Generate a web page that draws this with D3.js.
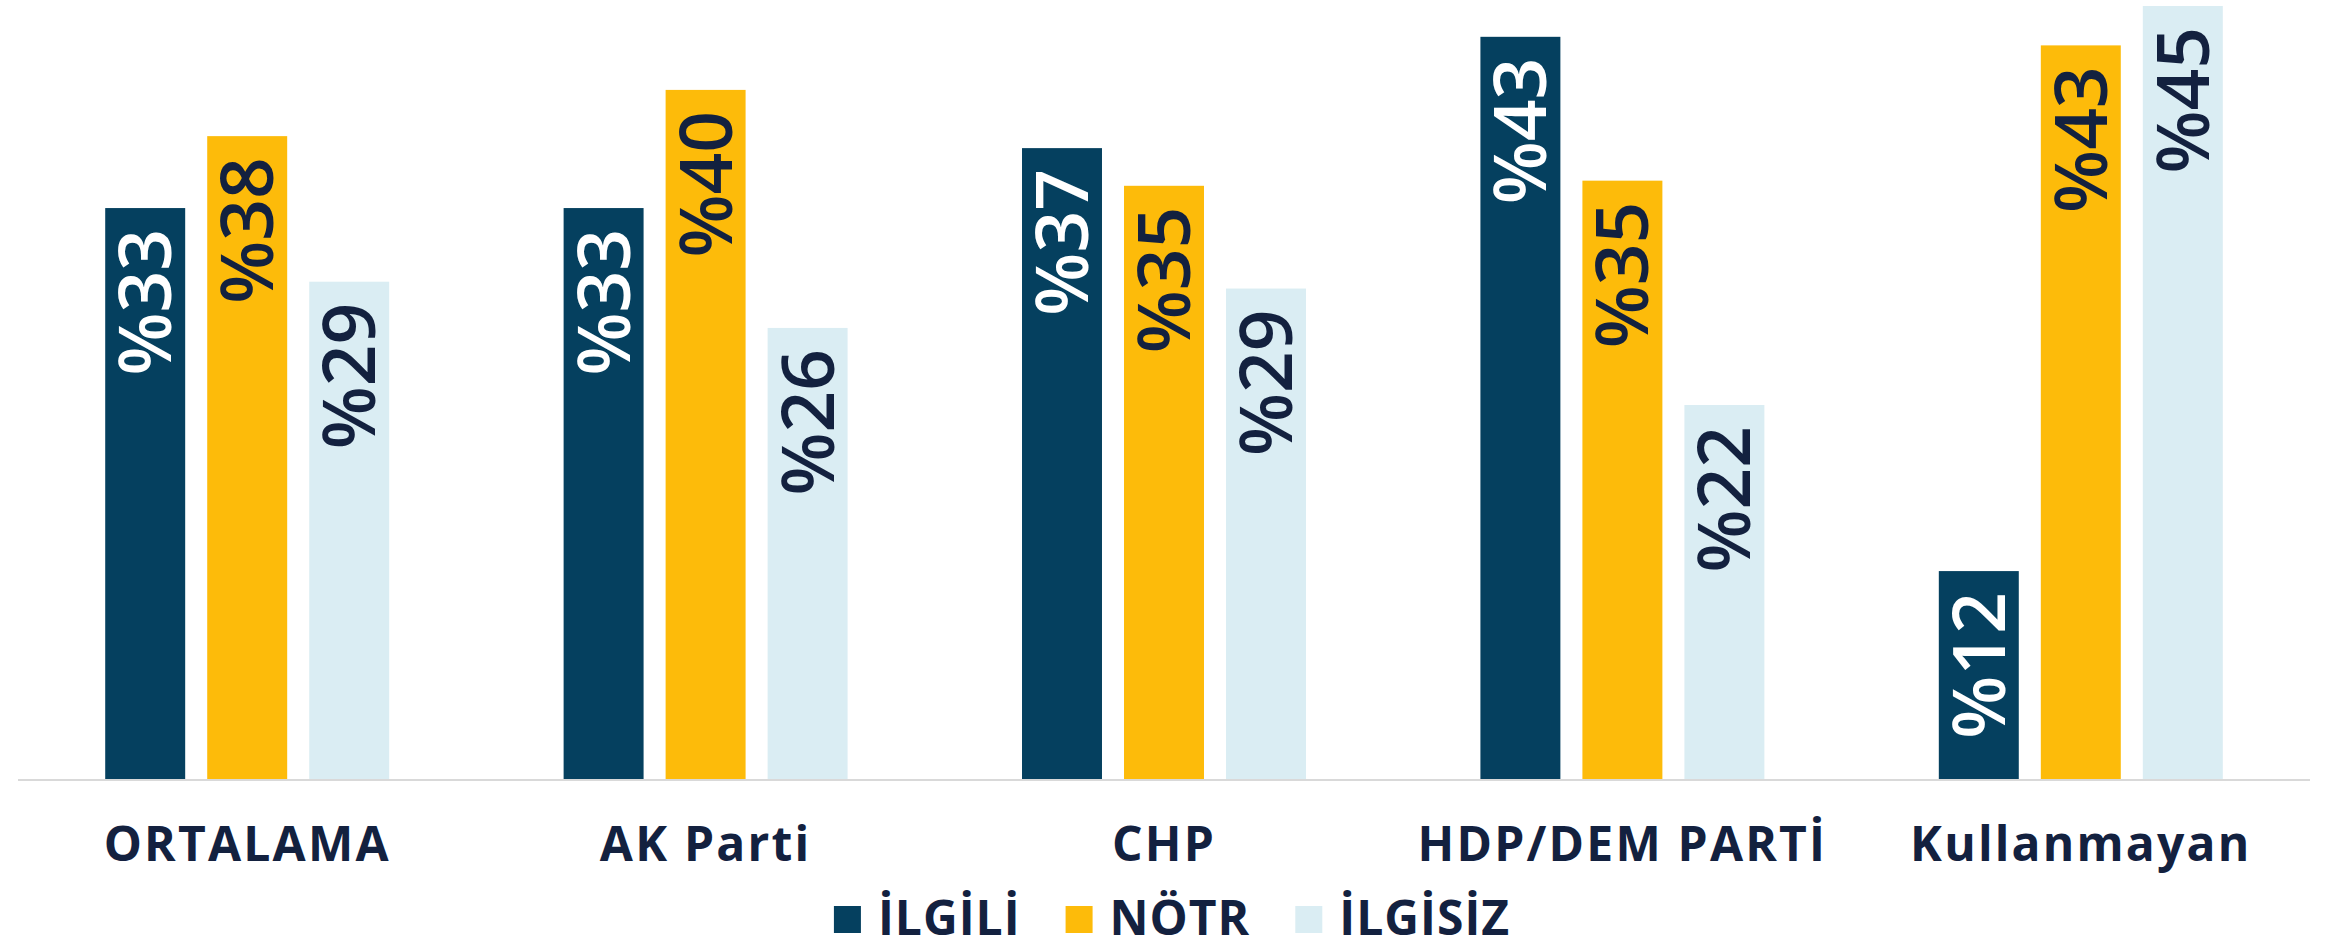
<!DOCTYPE html>
<html>
<head>
<meta charset="utf-8">
<script src="https://cdn.jsdelivr.net/npm/d3@7"></script>
<style>
  body { margin: 0; background: #fff; }
  svg { display: block; }
</style>
</head>
<body>
<svg id="chart"></svg>
<script>
// chart data
const categories = ["ORTALAMA", "AK Parti", "CHP", "HDP/DEM PARTİ", "Kullanmayan"];
const seriesNames = ["İLGİLİ", "NÖTR", "İLGİSİZ"];
const ilgili  = [33.4, 33.4, 36.9, 43.4, 12.2];
const notr    = [37.6, 40.3, 34.7, 35.0, 42.9];
const ilgisiz = [29.1, 26.4, 28.7, 21.9, 45.2];
const seriesValues = [ilgili, notr, ilgisiz];

const colors = ["#05405f", "#fdbb0a", "#daedf3"];
const labelColors = ["#ffffff", "#13213f", "#13213f"];
const navy = "#13213f";

const W = 2344, H = 949;
const baseY = 780;

const svg = d3.select("#chart").attr("width", W).attr("height", H);

// scales
const x0 = d3.scaleBand().domain(categories).range([18, 2310]).padding(0);
const x1 = d3.scaleBand().domain(seriesNames).range([0, x0.bandwidth()])
    .paddingInner(0.216).paddingOuter(0.855);
const y = d3.scaleLinear().domain([0, 45.55]).range([baseY, 0]);

// rows for drawing
const rows = [];
categories.forEach((c, i) => {
    seriesNames.forEach((s, j) => {
        rows.push({ cat: c, series: s, idx: j, value: seriesValues[j][i] });
    });
});

// bars
svg.append("g").selectAll("rect")
    .data(rows)
    .enter().append("rect")
    .attr("x", d => x0(d.cat) + x1(d.series))
    .attr("y", d => y(d.value))
    .attr("width", x1.bandwidth())
    .attr("height", d => baseY - y(d.value))
    .attr("fill", d => colors[d.idx]);

// baseline
svg.append("line")
    .attr("x1", x0.range()[0]).attr("x2", x0.range()[1])
    .attr("y1", baseY).attr("y2", baseY)
    .attr("stroke", "#d9d9d9")
    .attr("stroke-width", 2);

// value labels, rotated
const valFont = 73;
svg.append("g").selectAll("text")
    .data(rows)
    .enter().append("text")
    .attr("transform", d => {
        const cx = x0(d.cat) + x1(d.series) + x1.bandwidth() / 2 + valFont * 0.357;
        const ty = y(d.value) + 21;
        return `translate(${cx},${ty}) rotate(-90)`;
    })
    .attr("text-anchor", "end")
    .style("font-family", "'Open Sans', sans-serif")
    .style("font-weight", 600)
    .style("font-size", valFont + "px")
    .style("fill", d => labelColors[d.idx])
    .text(d => "%" + Math.round(d.value));

// category labels
svg.append("g").selectAll("text")
    .data(categories)
    .enter().append("text")
    .attr("x", d => x0(d) + x0.bandwidth() / 2)
    .attr("y", 861)
    .attr("text-anchor", "middle")
    .style("font-family", "'Open Sans', sans-serif")
    .style("font-weight", 700)
    .style("font-size", "48px")
    .style("letter-spacing", "2.2px")
    .style("fill", navy)
    .text(d => d);

// legend
const legend = svg.append("g");
const items = legend.selectAll("g")
    .data(seriesNames)
    .enter().append("g");
items.append("rect")
    .attr("width", 27).attr("height", 27)
    .attr("y", 906)
    .attr("fill", (d, i) => colors[i]);
items.append("text")
    .attr("x", 44)
    .attr("y", 935)
    .style("font-family", "'Open Sans', sans-serif")
    .style("font-weight", 700)
    .style("font-size", "48px")
    .style("letter-spacing", "1px")
    .style("fill", navy)
    .text(d => d);

// lay legend items out in a row, centred
let pos = 0;
const offsets = [];
items.each(function () {
    offsets.push(pos);
    const w = 44 + this.querySelector("text").getComputedTextLength();
    pos += w + 45;
});
const totalW = pos - 45;
const startX = 1172 - totalW / 2;
items.attr("transform", (d, i) => `translate(${startX + offsets[i]},0)`);
</script>
</body>
</html>
